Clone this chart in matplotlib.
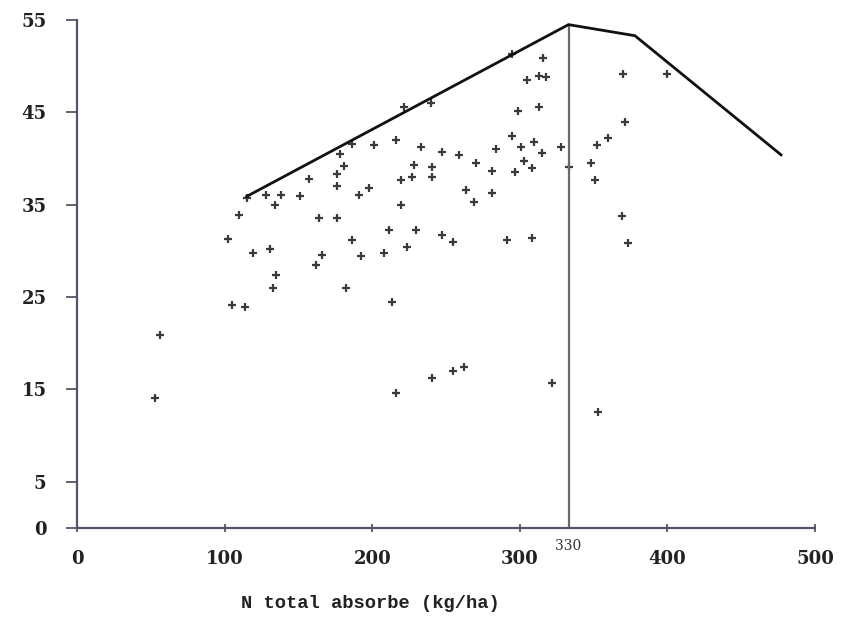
import matplotlib
matplotlib.use("Agg")
import matplotlib.pyplot as plt
import matplotlib.transforms as mtransforms

# Points observes : N total absorbe (kg/ha) et rendement
n_abs = [53, 56, 102, 105, 110, 114, 115, 119, 128, 131, 133, 134, 135, 138,
         151, 157, 162, 164, 166, 178, 181, 176, 176, 176, 182, 186, 186.5,
         191, 192.6, 198, 201, 208, 211.5, 213.5, 216, 216, 219.5, 219.5,
         221.6, 223.6, 227, 228, 229.7, 233, 240, 240.5, 240.5, 240.5, 247,
         247, 255, 255, 259, 262, 263.5, 269, 270, 281, 281, 284, 291, 294.6,
         295, 297, 299, 301, 302.7, 305, 308, 308, 309.5, 313, 313, 315, 316,
         318, 322, 327.7, 333, 348, 351, 352, 353, 359.5, 369, 370, 371,
         373.6, 400]
rendement = [14.1, 20.9, 31.3, 24.1, 33.9, 23.9, 35.7, 29.8, 36.1, 30.2, 26.0,
             35.0, 27.4, 36.0, 35.9, 37.8, 28.5, 33.6, 29.6, 40.5, 39.2, 38.3,
             37.0, 33.6, 26.0, 41.6, 31.2, 36.0, 29.4, 36.8, 41.5, 29.8, 32.3,
             24.5, 14.6, 42.0, 37.7, 35.0, 45.6, 30.4, 38.0, 39.3, 32.3, 41.3,
             46.0, 39.1, 38.0, 16.2, 40.7, 31.7, 31.0, 17.0, 40.4, 17.4, 36.6,
             35.3, 39.5, 38.6, 36.3, 41.0, 31.2, 42.4, 51.3, 38.5, 45.1, 41.2,
             39.7, 48.5, 39.0, 31.4, 41.8, 48.9, 45.6, 40.6, 50.9, 48.8, 15.7,
             41.3, 39.1, 39.5, 37.7, 41.5, 12.6, 42.2, 33.8, 49.1, 44.0, 30.9,
             49.1]

# Courbe enveloppe (frontiere)
env_x = [115, 333, 378, 477]
env_y = [35.9, 54.5, 53.3, 40.4]
n_opt = 333
n_opt_label = "330"

xticks = [0, 100, 200, 300, 400, 500]
yticks = [0, 5, 15, 25, 35, 45, 55]

fig = plt.figure(figsize=(8.45, 6.24), dpi=100)
ax = fig.add_axes([77 / 845, 1 - 528 / 624, (815 - 77) / 845, (528 - 20) / 624])

ax.plot(n_abs, rendement, linestyle="none", marker="+", markersize=6,
        markeredgewidth=1.6, color="#3a3a3a", zorder=2)
ax.plot(env_x, env_y, color="#111111", linewidth=2.0, zorder=3)
ax.plot([n_opt, n_opt], [0, env_y[1]], color="#6a6a6a", linewidth=1.6, zorder=2)

ax.set_xlim(0, 500)
ax.set_ylim(0, 55)
ax.set_xticks(xticks)
ax.set_yticks(yticks)

for s in ["top", "right"]:
    ax.spines[s].set_visible(False)
for s in ["left", "bottom"]:
    ax.spines[s].set_color("#55556a")
    ax.spines[s].set_linewidth(1.6)

tick_font = dict(family="DejaVu Serif", weight="bold", size=13)
ax.tick_params(axis="y", direction="out", length=8, width=1.3, colors="#55556a",
               labelcolor="#222222", pad=14)
ax.tick_params(axis="x", direction="inout", length=6, width=1.3, colors="#55556a",
               labelcolor="#222222", pad=13)
for lab in ax.get_xticklabels() + ax.get_yticklabels():
    lab.set_fontproperties(tick_font)

trans = mtransforms.blended_transform_factory(ax.transData, ax.transAxes)
ax.text(n_opt, -0.035, n_opt_label, transform=trans, ha="center", va="center",
        fontsize=10, color="#333333", family="DejaVu Serif")

fig.text(370 / 845, 1 - 603 / 624, "N total absorbe (kg/ha)", ha="center",
         va="center", fontsize=13.5, weight="bold", family="Liberation Mono",
         color="#222222")

fig.savefig("out.png", dpi=100)
